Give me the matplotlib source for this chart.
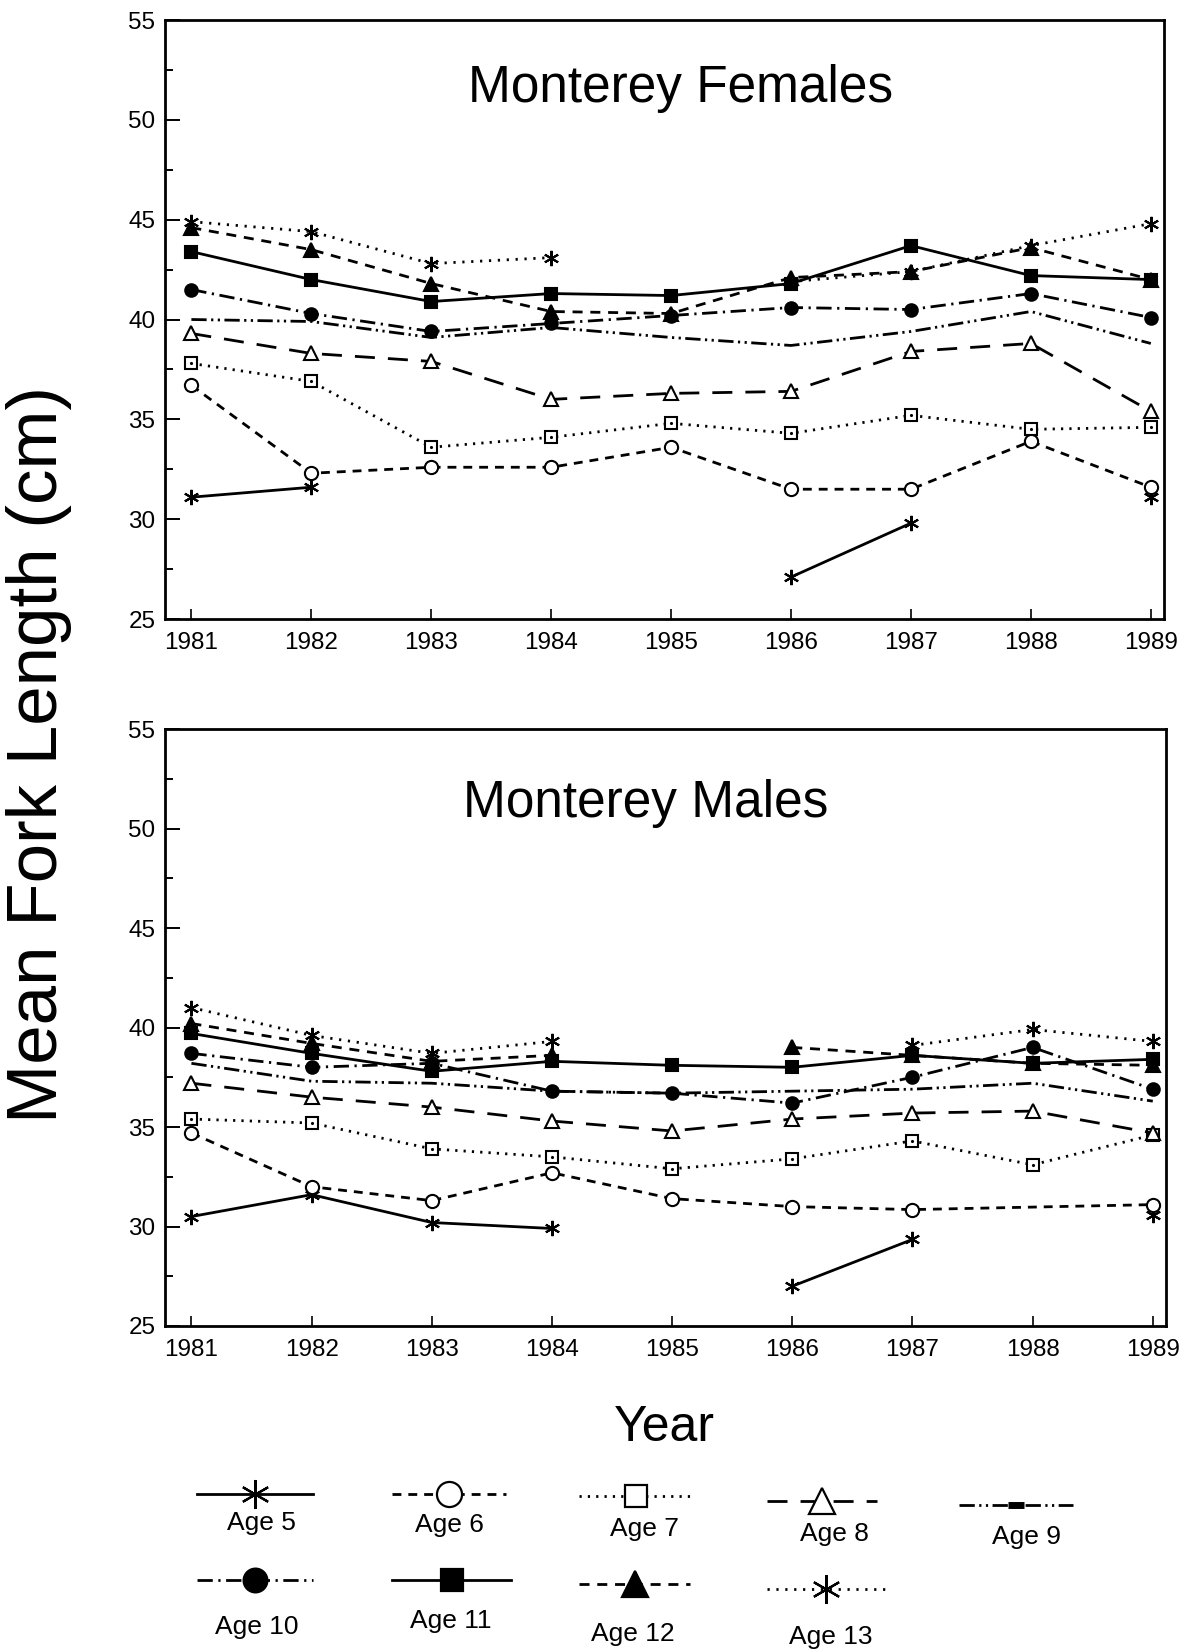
import numpy as np
import matplotlib
matplotlib.use("Agg")
import matplotlib.pyplot as plt
from matplotlib.lines import Line2D

plt.rcParams['font.family'] = ['Liberation Sans', 'DejaVu Sans']

nan = np.nan
years = [1981, 1982, 1983, 1984, 1985, 1986, 1987, 1988, 1989]
ages = [5, 6, 7, 8, 9, 10, 11, 12, 13]

# Monterey females, mean fork length (cm)
fem_5 = [31.1, 31.6, nan, nan, nan, 27.1, 29.8, nan, 31.1]
fem_6 = [36.7, 32.3, 32.6, 32.6, 33.6, 31.5, 31.5, 33.9, 31.6]
fem_7 = [37.8, 36.9, 33.6, 34.1, 34.8, 34.3, 35.2, 34.5, 34.6]
fem_8 = [39.3, 38.3, 37.9, 36.0, 36.3, 36.4, 38.4, 38.8, 35.4]
fem_9 = [40.0, 39.9, 39.1, 39.6, 39.1, 38.7, 39.4, 40.4, 38.8]
fem_10 = [41.5, 40.3, 39.4, 39.8, 40.2, 40.6, 40.5, 41.3, 40.1]
fem_11 = [43.4, 42.0, 40.9, 41.3, 41.2, 41.8, 43.7, 42.2, 42.0]
fem_12 = [44.6, 43.5, 41.8, 40.4, 40.3, 42.1, 42.4, 43.6, 42.0]
fem_13 = [44.9, 44.4, 42.8, 43.1, nan, 41.9, 42.4, 43.7, 44.8]

# Monterey males
male_5 = [30.5, 31.6, 30.2, 29.9, nan, 27.0, 29.35, nan, 30.6]
male_6 = [34.7, 32.0, 31.3, 32.7, 31.4, 31.0, 30.85, nan, 31.1]
male_7 = [35.4, 35.2, 33.9, 33.5, 32.9, 33.4, 34.3, 33.1, 34.6]
male_8 = [37.2, 36.5, 36.0, 35.3, 34.8, 35.4, 35.7, 35.8, 34.7]
male_9 = [38.2, 37.3, 37.2, 36.8, 36.7, 36.8, 36.9, 37.2, 36.3]
male_10 = [38.7, 38.0, 38.2, 36.8, 36.7, 36.2, 37.5, 39.0, 36.9]
male_11 = [39.7, 38.7, 37.8, 38.3, 38.1, 38.0, 38.6, 38.2, 38.4]
male_12 = [40.2, 39.2, 38.3, 38.6, nan, 39.0, 38.6, 38.2, 38.1]
male_13 = [41.0, 39.6, 38.7, 39.3, nan, nan, 39.1, 39.9, 39.3]

females = [fem_5, fem_6, fem_7, fem_8, fem_9, fem_10, fem_11, fem_12, fem_13]
males = [male_5, male_6, male_7, male_8, male_9, male_10, male_11, male_12, male_13]

# male age 6 line runs straight through the missing 1988 value
bridged = {("m", 6)}

ast = (6, 2, 0)
lw = 2.0
styles = {
    5:  dict(dashes=(), marker=ast, filled=False, ms=11),
    6:  dict(dashes=(3.2, 2.5), marker='o', filled=False, ms=9.5),
    7:  dict(dashes=(0.8, 2.2), marker='s', filled=False, ms=8.5),
    8:  dict(dashes=(7.2, 4.7), marker='^', filled=False, ms=10),
    9:  dict(dashes=(5.5, 1.6, 0.8, 1.6, 0.8, 1.6), marker=None, filled=True, ms=0),
    10: dict(dashes=(5.5, 2, 0.8, 2), marker='o', filled=True, ms=9),
    11: dict(dashes=(), marker='s', filled=True, ms=8.5),
    12: dict(dashes=(3.6, 2.8), marker='^', filled=True, ms=10),
    13: dict(dashes=(0.8, 2.4), marker=ast, filled=False, ms=11),
}


def draw_series(ax, x, y, st, key):
    x = np.array(x, dtype=float)
    y = np.array(y, dtype=float)
    if key in bridged:
        ok = np.isfinite(y)
        lx, ly = x[ok], y[ok]
    else:
        lx, ly = x, y
    line, = ax.plot(lx, ly, color='black', lw=lw)
    if st['dashes']:
        line.set_dashes(st['dashes'])
    if st['marker'] is not None:
        ax.plot(x, y, ls='none', marker=st['marker'], ms=st['ms'],
                mfc='black' if st['filled'] else 'white', mec='black', mew=1.5)
        if st['marker'] == 's' and not st['filled']:
            ax.plot(x, y, ls='none', marker='.', ms=2.5, color='black')


def setup_axes(ax, title, tx, ty):
    ax.set_xlim(1980.78, 1989.11)
    ax.set_ylim(25, 55)
    ax.set_xticks(years)
    ax.set_xticklabels([str(v) for v in years])
    ax.set_yticks(np.arange(25, 56, 5))
    ax.set_yticks(np.arange(27.5, 55, 5), minor=True)
    ax.tick_params(axis='y', which='major', direction='in', length=11, width=1.4,
                   labelsize=17.5, pad=7)
    ax.tick_params(axis='y', which='minor', direction='in', length=6, width=1.4)
    ax.tick_params(axis='x', direction='in', length=7, width=1.2, labelsize=17.5, pad=9)
    for s in ax.spines.values():
        s.set_linewidth(2.0)
    ax.text(tx, ty, title, transform=ax.transAxes, ha='center', va='center', fontsize=37)


fig = plt.figure(figsize=(11.8, 16.52), dpi=100)
ax_top = fig.add_axes([165/1180, 1 - 619/1652, 999/1180, 599/1652])
ax_bot = fig.add_axes([165/1180, 1 - 1326/1652, 1001/1180, 597/1652])

for age, ys in zip(ages, females):
    draw_series(ax_top, years, ys, styles[age], ("f", age))
for age, ys in zip(ages, males):
    draw_series(ax_bot, years, ys, styles[age], ("m", age))

setup_axes(ax_top, "Monterey Females", 0.516, 0.885)
setup_axes(ax_bot, "Monterey Males", 0.48, 0.875)

fig.text(0.033, 0.543, "Mean Fork Length (cm)", rotation=90, ha='center', va='center',
         fontsize=51)
fig.text(664/1180, 1 - 1428/1652, "Year", ha='center', va='center', fontsize=36)

# legend block drawn in pixel space of the figure
lg = fig.add_axes([0, 0, 1, 1], zorder=-1)
lg.set_xlim(0, 1180)
lg.set_ylim(1652, 0)
lg.axis('off')

leg_pos = {
    5:  (197, 313, 1494, 261, 1523),
    6:  (392, 506, 1494, 449, 1525),
    7:  (579, 693, 1496, 644, 1529),
    8:  (767, 877, 1501, 834, 1534),
    9:  (959, 1073, 1505, 1026, 1537),
    10: (197, 313, 1580, 257, 1627),
    11: (392, 511, 1580, 451, 1621),
    12: (579, 690, 1584, 633, 1634),
    13: (767, 885, 1589, 831, 1637),
}
for age in ages:
    x0, x1, yl, xt, yt = leg_pos[age]
    st = styles[age]
    ln = Line2D([x0, x1], [yl, yl], color='black', lw=lw)
    if st['dashes']:
        ln.set_dashes(st['dashes'])
    lg.add_line(ln)
    xm = (x0 + x1) / 2
    if st['marker'] is not None:
        lg.plot([xm], [yl], ls='none', marker=st['marker'], ms=st['ms'] * 1.9,
                mfc='black' if st['filled'] else 'white', mec='black', mew=1.6)
    else:
        lg.plot([xm], [yl], ls='none', marker='_', ms=12, mew=5, color='black')
    lg.text(xt, yt, "Age %d" % age, ha='center', va='center', fontsize=19)

fig.savefig("out.png", dpi=100)
